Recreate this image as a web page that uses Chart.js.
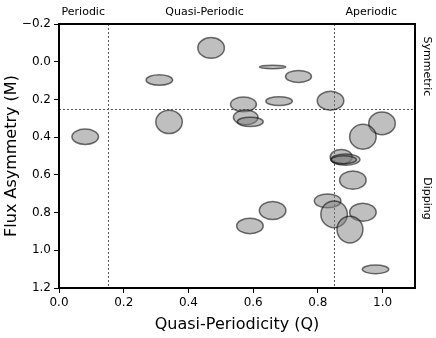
<!DOCTYPE html>
<html>
<head>
<meta charset="utf-8">
<script src="https://cdn.jsdelivr.net/npm/chart.js@4/dist/chart.umd.min.js"></script>
<style>
  html, body { margin: 0; padding: 0; background: #fff; }
  #wrap { width: 436px; height: 338px; }
</style>
</head>
<body>
<div id="wrap"><canvas id="c" width="436" height="338"></canvas></div>
<script>
// ---- Data ----
const qValues = [0.470, 0.660, 0.740, 0.310, 0.680, 0.570, 0.839, 0.577, 0.591, 0.340, 0.081, 0.998, 0.939, 0.872, 0.885, 0.880, 0.908, 0.830, 0.850, 0.939, 0.899, 0.660, 0.590, 0.978];
const mValues = [-0.073, 0.028, 0.078, 0.097, 0.209, 0.226, 0.207, 0.295, 0.319, 0.319, 0.398, 0.327, 0.398, 0.505, 0.519, 0.520, 0.628, 0.738, 0.809, 0.798, 0.890, 0.789, 0.871, 1.101];
const qErrors = [0.041, 0.041, 0.040, 0.041, 0.041, 0.040, 0.041, 0.038, 0.040, 0.041, 0.041, 0.041, 0.041, 0.034, 0.045, 0.039, 0.041, 0.041, 0.041, 0.041, 0.040, 0.041, 0.041, 0.041];
const mErrors = [0.055, 0.009, 0.032, 0.028, 0.023, 0.039, 0.050, 0.039, 0.025, 0.062, 0.041, 0.060, 0.066, 0.039, 0.030, 0.021, 0.048, 0.037, 0.071, 0.048, 0.071, 0.048, 0.041, 0.023];

const xTicks = [0.0, 0.2, 0.4, 0.6, 0.8, 1.0];
const yTicks = [-0.2, 0.0, 0.2, 0.4, 0.6, 0.8, 1.0, 1.2];
const qThresholds = [0.15, 0.85];
const mThreshold = 0.25;
const topLabels = [
  { text: 'Periodic', q: 0.075 },
  { text: 'Quasi-Periodic', q: 0.45 },
  { text: 'Aperiodic', q: 0.965 }
];
const sideLabels = [
  { text: 'Symmetric', m: 0.025 },
  { text: 'Dipping', m: 0.725 }
];

const FONT = "'DejaVu Sans', sans-serif";

const points = qValues.map((q, i) => ({ x: q, y: mValues[i] }));

const annotPlugin = {
  id: 'annot',
  beforeDatasetsDraw(chart) {
    const { ctx, chartArea: a, scales: { x, y } } = chart;
    ctx.save();
    ctx.strokeStyle = '#555';
    ctx.lineWidth = 1;
    ctx.setLineDash([2, 2]);
    qThresholds.forEach(q => {
      const px = Math.round(x.getPixelForValue(q)) + 0.5;
      ctx.beginPath(); ctx.moveTo(px, a.top); ctx.lineTo(px, a.bottom); ctx.stroke();
    });
    const py = Math.round(y.getPixelForValue(mThreshold)) + 0.5;
    ctx.beginPath(); ctx.moveTo(a.left, py); ctx.lineTo(a.right, py); ctx.stroke();
    ctx.restore();
  },
  afterDatasetsDraw(chart) {
    const { ctx, chartArea: a, scales: { x, y } } = chart;
    ctx.save();
    ctx.beginPath(); ctx.rect(a.left, a.top, a.right - a.left, a.bottom - a.top); ctx.clip();
    qValues.forEach((q, i) => {
      const cx = x.getPixelForValue(q);
      const cy = y.getPixelForValue(mValues[i]);
      const rx = Math.abs(x.getPixelForValue(q + qErrors[i]) - cx);
      const ry = Math.abs(y.getPixelForValue(mValues[i] + mErrors[i]) - cy);
      ctx.beginPath();
      ctx.ellipse(cx, cy, rx, ry, 0, 0, Math.PI * 2);
      ctx.fillStyle = 'rgba(128,128,128,0.5)';
      ctx.fill();
      ctx.lineWidth = 1.5;
      ctx.strokeStyle = 'rgba(0,0,0,0.55)';
      ctx.stroke();
    });
    ctx.restore();

    // frame
    ctx.save();
    ctx.strokeStyle = '#000';
    ctx.lineWidth = 2;
    ctx.strokeRect(a.left, a.top, a.right - a.left, a.bottom - a.top);
    ctx.restore();

    // text labels
    ctx.save();
    ctx.fillStyle = '#000';
    ctx.font = '11px ' + FONT;
    ctx.textAlign = 'center';
    ctx.textBaseline = 'middle';
    topLabels.forEach(l => {
      ctx.fillText(l.text, x.getPixelForValue(l.q), a.top - 12);
    });
    sideLabels.forEach(l => {
      ctx.save();
      ctx.translate(a.right + 12, y.getPixelForValue(l.m));
      ctx.rotate(Math.PI / 2);
      ctx.fillText(l.text, 0, 0);
      ctx.restore();
    });
    ctx.restore();
  }
};

const fmt = v => {
  const s = Number(v).toFixed(1);
  return s.replace('-', '\u2212');
};

new Chart(document.getElementById('c'), {
  type: 'scatter',
  data: {
    datasets: [{
      data: points,
      pointRadius: 0,
      pointHoverRadius: 0,
      showLine: false
    }]
  },
  options: {
    responsive: false,
    animation: false,
    events: [],
    layout: { padding: { left: 0, top: 24, right: 21, bottom: 0 } },
    plugins: { legend: { display: false }, tooltip: { enabled: false } },
    scales: {
      x: {
        type: 'linear',
        min: 0, max: 1.1,
        afterFit: s => { s.height = 50; },
        afterBuildTicks: s => { s.ticks = xTicks.map(v => ({ value: v })); },
        border: { display: true, color: '#000', width: 2 },
        grid: { display: true, drawOnChartArea: false, drawTicks: true, tickLength: 5, color: '#000', lineWidth: 1 },
        ticks: { color: '#000', font: { family: FONT, size: 12 }, padding: 3, maxRotation: 0, callback: fmt },
        title: { display: true, text: 'Quasi-Periodicity (Q)', color: '#000', font: { family: FONT, size: 16 }, padding: { top: 0, bottom: 4 } }
      },
      y: {
        type: 'linear',
        reverse: true,
        min: -0.2, max: 1.2,
        afterFit: s => { s.width = 59; },
        afterBuildTicks: s => { s.ticks = yTicks.map(v => ({ value: v })); },
        border: { display: true, color: '#000', width: 2 },
        grid: { display: true, drawOnChartArea: false, drawTicks: true, tickLength: 5, color: '#000', lineWidth: 1 },
        ticks: { color: '#000', font: { family: FONT, size: 12 }, padding: 3, callback: fmt },
        title: { display: true, text: 'Flux Asymmetry (M)', color: '#000', font: { family: FONT, size: 16 }, padding: { top: 2, bottom: 0 } }
      }
    }
  },
  plugins: [annotPlugin]
});
</script>
</body>
</html>
